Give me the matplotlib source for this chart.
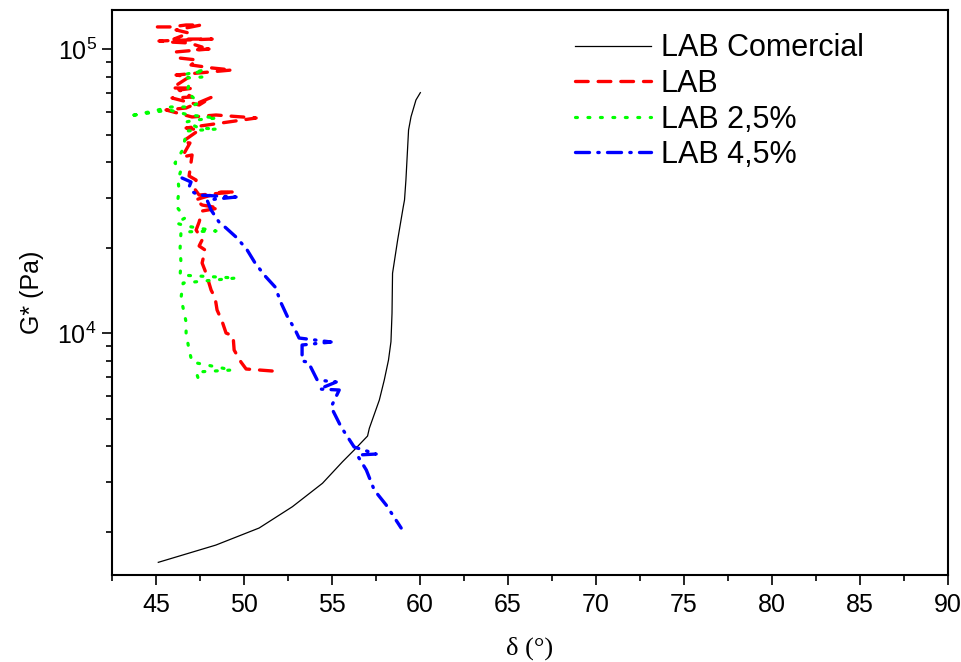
import matplotlib
matplotlib.use("Agg")
import matplotlib.pyplot as plt
from matplotlib.ticker import LogLocator, MultipleLocator, NullFormatter

# Phase angle delta (deg) and complex modulus G* (Pa) for each sample
com_delta = [45.13, 48.40, 50.86, 52.75, 54.46, 55.60, 56.26, 57.02, 57.12, 57.69,
             57.97, 58.21, 58.35, 58.41, 58.44, 58.73, 59.05, 59.12, 59.20, 59.35,
             59.49, 59.77, 60.02]
com_g = [1558, 1792, 2058, 2446, 2958, 3523, 3873, 4338, 4617, 5809,
         6832, 8033, 9320, 11730, 16230, 21260, 27840, 29400, 34570, 51850,
         57750, 66140, 70200]

lab_delta = [51.60, 50.12, 49.83, 49.44, 49.38, 48.98, 48.75, 48.47, 48.36, 48.13,
             47.84, 47.62, 47.79, 47.45, 47.62, 47.28, 47.45, 47.62, 48.58, 47.62,
             47.22, 48.70, 49.49, 47.45, 47.16, 47.28, 46.88, 47.05, 46.48, 46.93,
             46.48, 47.45, 46.71, 50.69, 48.41, 47.05, 45.57, 46.71, 48.19, 47.45,
             45.91, 47.05, 46.31, 47.16, 45.91, 46.88, 46.14, 49.32, 48.19, 46.99,
             47.33, 46.31, 46.08, 48.01, 47.33, 47.62, 46.88, 45.85, 45.17, 48.19,
             46.02, 46.88, 46.14, 47.56, 46.71, 45.85, 45.06]
lab_g = [7350, 7470, 7900, 8710, 9760, 10000, 11020, 12050, 13280, 14170,
         16270, 17640, 19600, 20250, 21260, 23050, 24590, 26890, 27550, 28230,
         29400, 31370, 31370, 30610, 32410, 34570, 35720, 42350, 41670, 46670,
         47050, 51850, 52700, 57150, 58560, 57630, 61000, 62000, 67760, 63520,
         67220, 67760, 71710, 72890, 72890, 79680, 81000, 84360, 85740, 87860,
         91490, 92970, 97590, 100000, 99190, 101600, 105000, 105800, 106700, 108400,
         108400, 113800, 116700, 121500, 121500, 119600, 119600]

lab25_delta = [47.45, 46.76, 47.73, 47.62, 46.71, 46.88, 46.76, 47.45, 46.88, 45.85,
               44.60, 43.46, 45.74, 46.88, 48.47, 47.22, 46.71, 47.45, 48.47, 46.71,
               46.65, 46.48, 46.08, 46.42, 46.25, 46.31, 46.19, 46.65, 46.14, 46.71,
               48.41, 46.42, 46.37, 46.42, 46.37, 49.55, 46.54, 46.42, 46.59, 46.71,
               46.71, 46.88, 47.05, 49.32, 47.28, 47.56]
lab25_g = [82990, 81660, 84360, 79680, 79040, 75300, 70600, 64550, 62500, 62500,
           60020, 58090, 61000, 58560, 57150, 56230, 55340, 52700, 52270, 51440,
           48210, 43730, 39680, 37490, 34570, 31880, 27770, 25410, 24390, 23810,
           22870, 22680, 19920, 17640, 16000, 15620, 15000, 13280, 11860, 10930,
           10000, 8710, 7900, 7408, 7289, 6454]

lab45_delta = [46.48, 46.99, 46.88, 47.10, 47.39, 49.55, 47.90, 48.13, 48.58, 48.98,
               49.61, 50.18, 50.63, 51.20, 51.77, 52.11, 52.45, 52.91, 53.13, 54.95,
               53.30, 53.30, 53.65, 54.16, 55.24, 54.27, 55.41, 54.95, 55.52, 56.26,
               57.51, 56.43, 56.95, 57.40, 58.08, 58.93]
lab45_g = [35140, 34020, 32670, 31370, 30610, 30120, 29400, 27110, 24590, 23430,
           21600, 19600, 17640, 15870, 14520, 12750, 11480, 10250, 9603, 9297,
           9073, 7967, 7900, 6832, 6722, 6350, 6300, 5487, 4667, 3968,
           3749, 3718, 3293, 2800, 2479, 2058]

series_labels = ["LAB Comercial", "LAB", "LAB 2,5%", "LAB 4,5%"]
x_ticks = [45, 50, 55, 60, 65, 70, 75, 80, 85, 90]

plt.rcParams["font.family"] = ["Liberation Sans", "DejaVu Sans"]
plt.rcParams["mathtext.fontset"] = "custom"
plt.rcParams["mathtext.rm"] = "Liberation Sans"
plt.rcParams["mathtext.it"] = "Liberation Sans:italic"

fig = plt.figure(figsize=(9.62, 6.62), dpi=100)
ax = fig.add_axes([112 / 962, 1 - 575 / 662, (948 - 112) / 962, (575 - 10) / 662])

ax.plot(com_delta, com_g, color="black", lw=0.9, label=series_labels[0])
ax.plot(lab_delta, lab_g, color="#ff0000", lw=2.4, linestyle=(0, (3.8, 3.0)),
        dash_capstyle="round", label=series_labels[1])
ax.plot(lab25_delta, lab25_g, color="#00ff00", lw=2.3, linestyle=(0, (0.6, 3.3)),
        dash_capstyle="round", label=series_labels[2])
ax.plot(lab45_delta, lab45_g, color="#0000ff", lw=2.4, linestyle=(0, (4.2, 2.5, 0.4, 2.5)),
        dash_capstyle="round", label=series_labels[3])

ax.set_yscale("log")
ax.set_xlim(42.5, 90)
ax.set_ylim(1406, 137200)

ax.set_xticks(x_ticks)
ax.set_xticklabels([str(t) for t in x_ticks])
ax.xaxis.set_minor_locator(MultipleLocator(2.5))
ax.yaxis.set_major_locator(LogLocator(base=10, numticks=10))
ax.yaxis.set_minor_locator(LogLocator(base=10, subs=range(2, 10), numticks=20))
ax.yaxis.set_minor_formatter(NullFormatter())

ax.tick_params(which="major", direction="out", length=7, width=1.2, labelsize=18,
               top=False, right=False)
ax.tick_params(which="minor", direction="out", length=4.5, width=1.2,
               top=False, right=False)
ax.tick_params(axis="x", pad=6)
ax.tick_params(axis="y", pad=4)
for sp in ax.spines.values():
    sp.set_linewidth(1.5)

ax.set_xlabel("δ (°)", fontsize=19, family=["Liberation Serif", "DejaVu Serif"], labelpad=14)
ax.set_ylabel("G* (Pa)", fontsize=18, labelpad=10)

ax.legend(loc="upper left", bbox_to_anchor=((575 - 112) / 836, 1 - (33.5 - 10) / 565),
          frameon=False, handlelength=2.5, handletextpad=0.3,
          labelspacing=0.18, borderpad=0, borderaxespad=0,
          prop={"family": ["Liberation Sans", "DejaVu Sans"], "size": 22})

fig.savefig("out.png", dpi=100)
